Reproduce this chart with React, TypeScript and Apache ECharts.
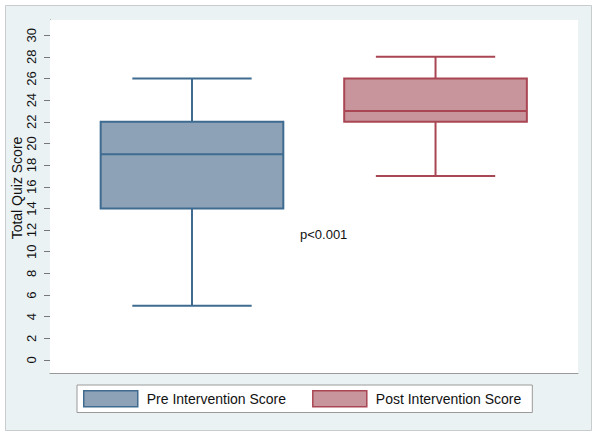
import React, { useEffect, useRef } from "react";
import * as echarts from "echarts";

const categories = ["Pre Intervention Score", "Post Intervention Score"];
// [min, Q1, median, Q3, max]
const preValues = [5, 14, 19, 22, 26];
const postValues = [17, 22, 23, 26, 28];
const yTicks = [0, 2, 4, 6, 8, 10, 12, 14, 16, 18, 20, 22, 24, 26, 28, 30];
const yTitle = "Total Quiz Score";
const annotation = "p<0.001";

const styles = [
  { fill: "#8ea2b7", stroke: "#3e6b8f" },
  { fill: "#c8959d", stroke: "#a94653" },
];

function renderBox(params: any, api: any) {
  const x = api.value(0);
  const vals = [api.value(1), api.value(2), api.value(3), api.value(4), api.value(5)];
  const unit = api.size([1, 0])[0];
  const boxHalf = unit * 0.375;
  const capHalf = unit * 0.245;
  const p = vals.map((v: number) => api.coord([x, v]));
  const cx = p[0][0];
  const st = styles[params.seriesIndex];
  const lineStyle = { stroke: st.stroke, lineWidth: 2 };
  return {
    type: "group",
    children: [
      { type: "line", shape: { x1: cx, y1: p[4][1], x2: cx, y2: p[3][1] }, style: lineStyle },
      { type: "line", shape: { x1: cx, y1: p[1][1], x2: cx, y2: p[0][1] }, style: lineStyle },
      { type: "line", shape: { x1: cx - capHalf, y1: p[4][1], x2: cx + capHalf, y2: p[4][1] }, style: lineStyle },
      { type: "line", shape: { x1: cx - capHalf, y1: p[0][1], x2: cx + capHalf, y2: p[0][1] }, style: lineStyle },
      {
        type: "rect",
        shape: { x: cx - boxHalf, y: p[3][1], width: boxHalf * 2, height: p[1][1] - p[3][1] },
        style: { fill: st.fill, stroke: st.stroke, lineWidth: 2 },
      },
      { type: "line", shape: { x1: cx - boxHalf, y1: p[2][1], x2: cx + boxHalf, y2: p[2][1] }, style: lineStyle },
    ],
  };
}

export default function App() {
  const ref = useRef<HTMLDivElement>(null);
  useEffect(() => {
    document.body.style.margin = "0";
    const chart = echarts.init(ref.current!, null, { renderer: "svg" });
    const font = "'Liberation Sans', Arial, sans-serif";
    chart.setOption({
      animation: false,
      backgroundColor: "#ffffff",
      textStyle: { fontFamily: font },
      graphic: [
        {
          type: "rect",
          z: -10,
          silent: true,
          shape: { x: 5.5, y: 5.5, width: 586, height: 425 },
          style: { fill: "#eaf2f4", stroke: "#c9cccd", lineWidth: 1 },
        },
        {
          type: "text",
          z: 10,
          x: 300,
          y: 234,
          style: { text: annotation, font: `13px ${font}`, fill: "#111", verticalAlign: "middle" },
        },
        {
          type: "text",
          z: 10,
          x: 17,
          y: 188,
          rotation: Math.PI / 2,
          style: {
            text: yTitle,
            font: `14px ${font}`,
            fill: "#111",
            align: "center",
            verticalAlign: "middle",
          },
        },
      ],
      grid: {
        left: 50,
        top: 20,
        right: 22,
        bottom: 66,
        show: true,
        backgroundColor: "#ffffff",
        borderWidth: 0,
        z: 2,
      },
      legend: {
        left: 77,
        top: 385,
        orient: "horizontal",
        backgroundColor: "#ffffff",
        borderColor: "#9a9a9a",
        borderWidth: 1,
        borderRadius: 0,
        padding: [5, 11, 5, 6],
        itemWidth: 54,
        itemHeight: 16,
        itemGap: 26,
        textStyle: { fontSize: 14, color: "#111", fontFamily: font, padding: [0, 0, 0, 4] },
        data: categories.map((c, i) => ({
          name: c,
          icon: "rect",
          itemStyle: { color: styles[i].fill, borderColor: styles[i].stroke, borderWidth: 1.5 },
        })),
      },
      xAxis: {
        type: "value",
        min: -0.583,
        max: 1.585,
        axisLine: { show: true, onZero: false, lineStyle: { color: "#9a9a9a", width: 1 } },
        axisTick: { show: false },
        axisLabel: { show: false },
        splitLine: { show: false },
      },
      yAxis: {
        type: "value",
        min: -1.2,
        max: 31.4,
        axisLine: { show: true, onZero: false, lineStyle: { color: "#666", width: 1 } },
        axisTick: { show: true, length: 6, customValues: yTicks, lineStyle: { color: "#777" } },
        axisLabel: {
          customValues: yTicks,
          rotate: 90,
          margin: 12,
          fontSize: 13,
          color: "#111",
          fontFamily: font,
        },
        splitLine: { show: true, lineStyle: { color: "#e3ebf0", width: 1 } },
      },
      series: [
        {
          name: categories[0],
          type: "custom",
          renderItem: renderBox,
          clip: true,
          encode: { x: 0, y: [1, 2, 3, 4, 5] },
          data: [[0, ...preValues]],
          z: 5,
        },
        {
          name: categories[1],
          type: "custom",
          renderItem: renderBox,
          clip: true,
          encode: { x: 0, y: [1, 2, 3, 4, 5] },
          data: [[1, ...postValues]],
          z: 5,
        },
      ],
    });
    return () => chart.dispose();
  }, []);
  return <div ref={ref} style={{ width: 600, height: 439 }} />;
}
